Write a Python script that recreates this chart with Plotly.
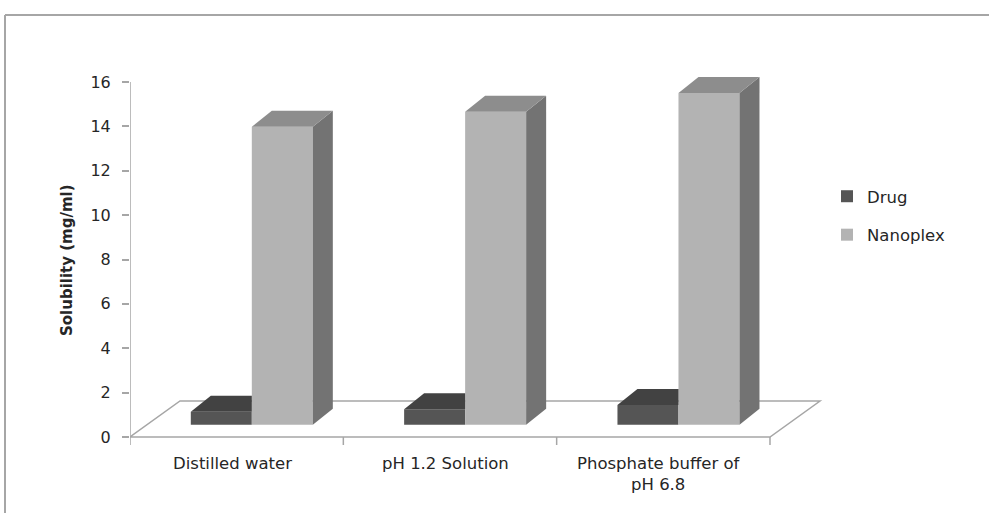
import plotly.graph_objects as go

# ---------------- data ----------------
categories = ["Distilled water", "pH 1.2 Solution", "Phosphate buffer of<br>pH 6.8"]
series_names = ["Drug", "Nanoplex"]
drug = [0.59, 0.70, 0.89]
nanoplex = [13.43, 14.11, 14.95]
y_ticks = [0, 2, 4, 6, 8, 10, 12, 14, 16]

# ---------------- style / geometry constants ----------------
W, H = 989, 513
ML, MR, MT, MB = 130, 159, 70, 53
PX_PER_CAT = 213.33
PX_PER_VAL = 22.1875
XR = [0, (W - ML - MR) / PX_PER_CAT]
YR = [-(H - MB - 437) / PX_PER_VAL, (437 - MT) / PX_PER_VAL]

FLOOR_DX, FLOOR_DY = 50 / PX_PER_CAT, 36 / PX_PER_VAL
BAR_DX, BAR_DY = 20 / PX_PER_CAT, 16 / PX_PER_VAL
FRONT_BASE = 0.55
GROUP_OFFSET = 0.571
BAR_W = 0.286

front_colors = {"Drug": "#555555", "Nanoplex": "#b3b3b3"}
top_colors = {"Drug": "#424242", "Nanoplex": "#8d8d8d"}
side_colors = {"Drug": "#3a3a3a", "Nanoplex": "#737373"}
GRID_C = "#a6a6a6"
FONT = "DejaVu Sans"
TXT = "#262626"

n = len(categories)
fig = go.Figure()

values = {"Drug": drug, "Nanoplex": nanoplex}
offsets = {"Drug": -BAR_W / 2, "Nanoplex": BAR_W / 2}

# front faces as bars
for k, name in enumerate(series_names):
    fig.add_trace(go.Bar(
        x=[i + GROUP_OFFSET + offsets[name] for i in range(n)],
        y=values[name], base=FRONT_BASE, width=BAR_W,
        marker=dict(color=front_colors[name], line=dict(width=0)),
        name=name, legendgroup=name, hoverinfo="name+y",
    ))

# top and side faces
for name in series_names:
    for i, v in enumerate(values[name]):
        xc = i + GROUP_OFFSET + offsets[name]
        xl, xr = xc - BAR_W / 2, xc + BAR_W / 2
        b, t = FRONT_BASE, FRONT_BASE + v
        if name == "Drug":
            # right part hidden behind the neighbouring bar
            tx = [xl, xr, xr, xl + BAR_DX, xl]
            ty = [t, t, t + BAR_DY, t + BAR_DY, t]
        else:
            tx = [xl, xr, xr + BAR_DX, xl + BAR_DX, xl]
            ty = [t, t, t + BAR_DY, t + BAR_DY, t]
            sx = [xr, xr, xr + BAR_DX, xr + BAR_DX, xr]
            sy = [b, t, t + BAR_DY, b + BAR_DY, b]
            fig.add_trace(go.Scatter(x=sx, y=sy, mode="lines", fill="toself",
                                     fillcolor=side_colors[name], line=dict(width=0),
                                     showlegend=False, hoverinfo="skip"))
        fig.add_trace(go.Scatter(x=tx, y=ty, mode="lines", fill="toself",
                                 fillcolor=top_colors[name], line=dict(width=0),
                                 showlegend=False, hoverinfo="skip"))

shapes = []
# floor
shapes.append(dict(type="path", layer="below",
                   path=f"M 0,0 L {n},0 L {n + FLOOR_DX},{FLOOR_DY} L {FLOOR_DX},{FLOOR_DY} Z",
                   xref="x", yref="y", line=dict(color=GRID_C, width=1.5), fillcolor="white"))
# value axis line
shapes.append(dict(type="line", layer="below", xref="x", yref="y", x0=0, x1=0, y0=0, y1=max(y_ticks),
                   line=dict(color=GRID_C, width=1.5)))
# category tick marks
for i in range(n + 1):
    shapes.append(dict(type="line", layer="below", xref="x", yref="y", x0=i, x1=i,
                       y0=0, y1=-8 / PX_PER_VAL, line=dict(color=GRID_C, width=1.5)))
# outer chart frame
def px2paper(px, py):
    return (px - ML) / (W - ML - MR), (H - MB - py) / (H - MT - MB)
fx0, fy0 = px2paper(5, 15)
fx1, fy1 = px2paper(W + 5, H + 5)
shapes.append(dict(type="line", xref="paper", yref="paper", x0=fx0, x1=fx1, y0=fy0, y1=fy0,
                   line=dict(color=GRID_C, width=2)))
shapes.append(dict(type="line", xref="paper", yref="paper", x0=fx0, x1=fx0, y0=fy0, y1=fy1,
                   line=dict(color=GRID_C, width=2)))

annotations = []
for i, c in enumerate(categories):
    annotations.append(dict(x=i + 0.48, y=0, xref="x", yref="y", text=c, showarrow=False,
                            yanchor="top", yshift=-15, font=dict(family=FONT, size=16.5, color=TXT)))
tx_, ty_ = px2paper(67, 260)
annotations.append(dict(x=tx_, y=ty_, xref="paper", yref="paper", text="<b>Solubility (mg/ml)</b>",
                        showarrow=False, textangle=-90, xanchor="center", yanchor="middle",
                        font=dict(family=FONT, size=15, color=TXT)))

lx, ly = px2paper(827, 179)
fig.update_layout(
    width=W, height=H, margin=dict(l=ML, r=MR, t=MT, b=MB),
    paper_bgcolor="white", plot_bgcolor="white",
    barmode="overlay", showlegend=True,
    xaxis=dict(range=XR, visible=False, fixedrange=True),
    yaxis=dict(range=YR, tickvals=y_ticks, ticks="outside", ticklen=7, tickcolor=GRID_C, tickwidth=1.5,
               showline=False, showgrid=False, zeroline=False, ticklabelstandoff=8,
               tickfont=dict(family=FONT, size=16, color=TXT), fixedrange=True),
    legend=dict(x=lx, y=ly, xanchor="left", yanchor="top", traceorder="grouped", tracegroupgap=14,
                font=dict(family=FONT, size=16.5, color=TXT), bgcolor="rgba(0,0,0,0)"),
    shapes=shapes, annotations=annotations,
)

fig.write_html("out.html")
